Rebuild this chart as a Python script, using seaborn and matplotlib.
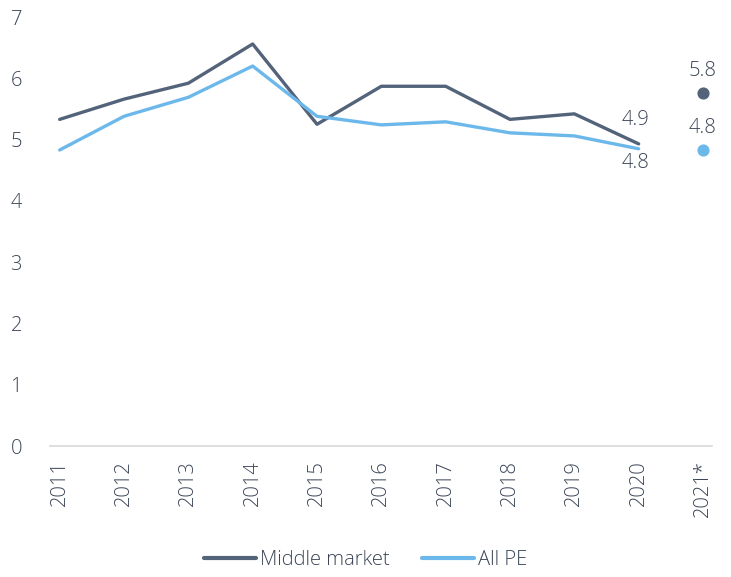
import numpy as np
import pandas as pd
import matplotlib
matplotlib.use("Agg")
import matplotlib.pyplot as plt
import seaborn as sns

years = ["2011", "2012", "2013", "2014", "2015", "2016", "2017", "2018", "2019", "2020", "2021*"]
middle_market = [5.33, 5.66, 5.92, 6.56, 5.25, 5.87, 5.87, 5.33, 5.42, 4.93]
all_pe = [4.83, 5.38, 5.69, 6.2, 5.38, 5.24, 5.29, 5.11, 5.06, 4.85]
mm_2021 = 5.76
pe_2021 = 4.83

dark = "#536379"
light = "#6cb8eb"
text_col = "#3b4557"

sns.set_style("white")
plt.rcParams["font.family"] = ["Open Sans", "DejaVu Sans"]
plt.rcParams["font.weight"] = 300

idx = np.arange(len(years))
df = pd.DataFrame({
    "x": np.concatenate([idx[:10], idx[:10]]),
    "value": middle_market + all_pe,
    "series": ["Middle market"] * 10 + ["All PE"] * 10,
})

fig = plt.figure(figsize=(7.31, 5.77), dpi=100)
ax = fig.add_axes([0.068, 0.227, 0.906, 0.7435])

sns.lineplot(data=df, x="x", y="value", hue="series",
             palette={"Middle market": dark, "All PE": light},
             linewidth=2.4, ax=ax)

# 2021 estimates as single dots
ax.scatter([idx[10]], [mm_2021], color=dark, s=60, zorder=3)
ax.scatter([idx[10]], [pe_2021], color=light, s=60, zorder=3)

# labels
fs = 14.5
ax.annotate(f"{middle_market[-1]:.1f}", (idx[9], middle_market[-1]), xytext=(-2, 10),
            textcoords="offset points", ha="center", va="bottom", fontsize=fs, color=text_col)
ax.annotate(f"{all_pe[-1]:.1f}", (idx[9], all_pe[-1]), xytext=(-2, -3),
            textcoords="offset points", ha="center", va="top", fontsize=fs, color=text_col)
ax.annotate(f"{mm_2021:.1f}", (idx[10], mm_2021), xytext=(0, 9),
            textcoords="offset points", ha="center", va="bottom", fontsize=fs, color=text_col)
ax.annotate(f"{pe_2021:.1f}", (idx[10], pe_2021), xytext=(0, 9),
            textcoords="offset points", ha="center", va="bottom", fontsize=fs, color=text_col)

ax.set_ylim(0, 7)
ax.set_xlim(-0.155, 10.14)
ax.set_yticks(range(0, 8))
ax.set_xticks(idx)
ax.set_xticklabels(years, rotation=90)
ax.tick_params(axis="both", labelsize=fs, colors=text_col, length=0)
ax.tick_params(axis="y", pad=20)
ax.tick_params(axis="x", pad=10)
ax.set_xlabel("")
ax.set_ylabel("")

for side in ["top", "right", "left"]:
    ax.spines[side].set_visible(False)
ax.spines["bottom"].set_color("#d9d9d9")
ax.spines["bottom"].set_linewidth(1.2)

ax.legend_.remove()
handles = [plt.Line2D([], [], color=dark, lw=3), plt.Line2D([], [], color=light, lw=3)]
fig.legend(handles, ["Middle market", "All PE"], loc="lower center",
           bbox_to_anchor=(0.5, -0.02), ncol=2, frameon=False, fontsize=fs,
           labelcolor=text_col, handlelength=2.6, handletextpad=0.2, columnspacing=1.6)

fig.savefig("out.png", dpi=100)
